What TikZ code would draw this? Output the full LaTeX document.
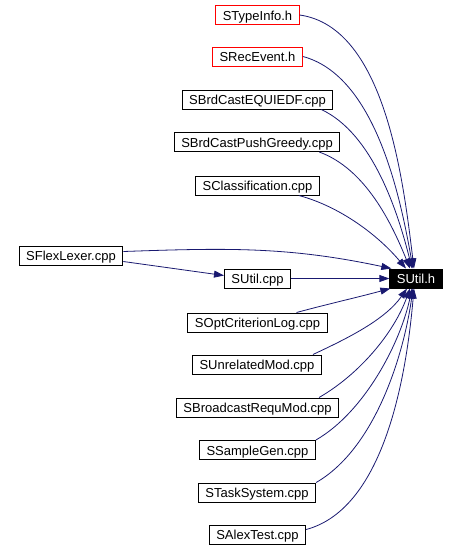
\documentclass[tikz,border=0pt]{standalone}
\usepackage{fontspec}
\setmainfont{Liberation Sans}
\usepackage{tikz}
\usetikzlibrary{arrows.meta}

\definecolor{edgeblue}{HTML}{191970}

\tikzset{
    file/.style={draw=black, line width=1pt, fill=white, inner xsep=7pt, inner ysep=0pt,
        minimum height=19pt, text height=11pt, text depth=0.5pt, font=\fontsize{13}{15}\selectfont},
    redfile/.style={file, draw=red},
    mainfile/.style={file, fill=black, text=white},
    dep/.style={draw=edgeblue, line width=0.8pt, -{Triangle[length=10pt, width=7pt]}, edgeblue}
}

\begin{document}
\begin{tikzpicture}[x=1pt, y=-1pt]

    \useasboundingbox (0,0) rectangle (457,550);

    % headers and sources
    \node[redfile] (typeinfo) at (257.5,15) {STypeInfo.h};
    \node[redfile] (recevent) at (257.5,56.5) {SRecEvent.h};
    \node[file] (equiedf) at (257.5,99.5) {SBrdCastEQUIEDF.cpp};
    \node[file] (pushgreedy) at (257,142) {SBrdCastPushGreedy.cpp};
    \node[file] (classif) at (257.5,185.5) {SClassification.cpp};
    \node[file] (flexlexer) at (71,255.5) {SFlexLexer.cpp};
    \node[file] (utilcpp) at (257.5,278.5) {SUtil.cpp};
    \node[file] (optcrit) at (257.5,322.5) {SOptCriterionLog.cpp};
    \node[file] (unrelated) at (257,364.5) {SUnrelatedMod.cpp};
    \node[file] (broadcast) at (257.5,407.5) {SBroadcastRequMod.cpp};
    \node[file] (samplegen) at (257.5,450) {SSampleGen.cpp};
    \node[file] (tasksys) at (257,492.5) {STaskSystem.cpp};
    \node[file] (alextest) at (257.5,534.5) {SAlexTest.cpp};

    % included file
    \node[mainfile] (util) at (416,278.5) {SUtil.h};

    % edges from above
    \draw[dep] (typeinfo.east) to[out=-8, in=97, looseness=0.8] ([xshift=-2pt]util.north);
    \draw[dep] (recevent.east) to[out=-15, in=100, looseness=0.8] ([xshift=-3pt]util.north);
    \draw[dep] ([xshift=-12pt]equiedf.south east) to[out=-25, in=104, looseness=0.8] ([xshift=-4pt]util.north);
    \draw[dep] ([xshift=-21pt]pushgreedy.south east) to[out=-20, in=112, looseness=0.85] ([xshift=-6pt]util.north);
    \draw[dep] ([xshift=-21pt]classif.south east) to[out=-15, in=130, looseness=0.85] ([xshift=-10pt]util.north);

    % edges from the left
    \draw[dep] ([yshift=4pt]flexlexer.east) to[out=2, in=168] ([xshift=2pt]util.north west);
    \draw[dep] ([yshift=-6pt]flexlexer.east) -- ([yshift=3pt]utilcpp.west);
    \draw[dep] (utilcpp.east) -- (util.west);

    % edges from below
    \draw[dep] ([xshift=-31pt]optcrit.north east) to[out=15, in=195] ([xshift=1pt]util.south west);
    \draw[dep] ([xshift=-9pt]unrelated.north east) to[out=25, in=235, looseness=0.85] ([xshift=-9pt]util.south);
    \draw[dep] ([xshift=-20pt]broadcast.north east) to[out=30, in=250, looseness=0.85] ([xshift=-6pt]util.south);
    \draw[dep] (samplegen.north east) to[out=30, in=258, looseness=0.8] ([xshift=-4pt]util.south);
    \draw[dep] (tasksys.north east) to[out=30, in=262, looseness=0.8] ([xshift=-3pt]util.south);
    \draw[dep] ([yshift=5pt]alextest.east) to[out=15, in=265, looseness=0.8] ([xshift=-2pt]util.south);

\end{tikzpicture}
\end{document}
